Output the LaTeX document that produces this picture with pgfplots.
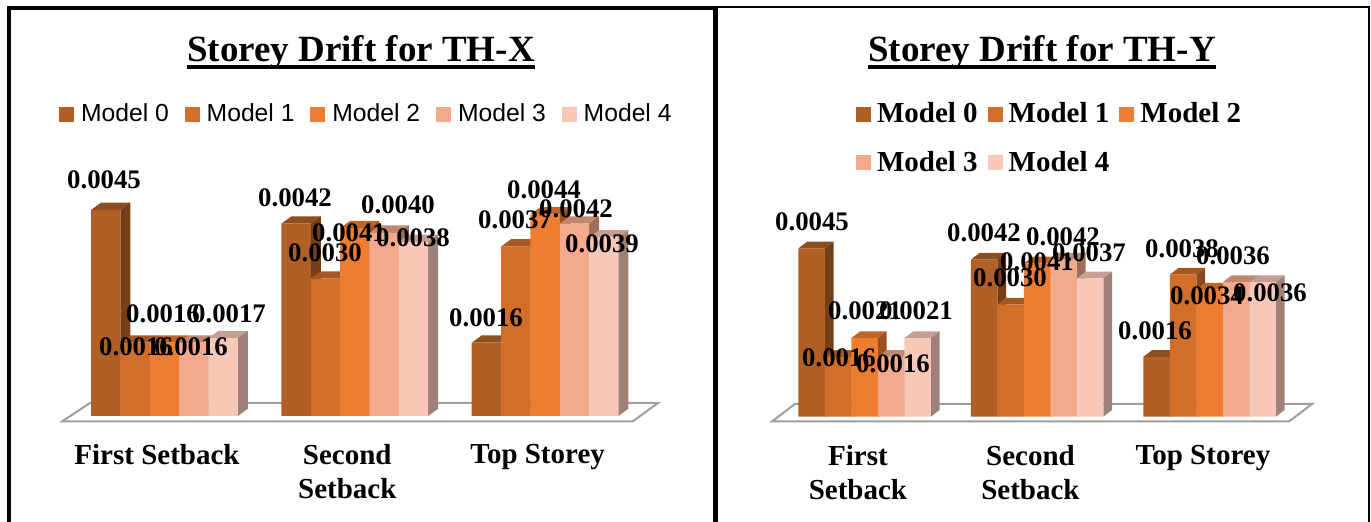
\documentclass[border=0pt]{standalone}
\usepackage{fontspec}
\usepackage{pgfplots}
\pgfplotsset{compat=1.18}
\setmainfont{Liberation Serif}
\newfontfamily\legendsans{Liberation Sans}

% shades of the five models: front, top and side faces
\definecolor{mA}{HTML}{B06024}\definecolor{mAt}{HTML}{8E4E1D}\definecolor{mAs}{HTML}{743F17}
\definecolor{mB}{HTML}{D06E2A}\definecolor{mBt}{HTML}{A65822}\definecolor{mBs}{HTML}{884A1C}
\definecolor{mC}{HTML}{ED7D31}\definecolor{mCt}{HTML}{BE6427}\definecolor{mCs}{HTML}{9A5120}
\definecolor{mD}{HTML}{F3A98C}\definecolor{mDt}{HTML}{C2876F}\definecolor{mDs}{HTML}{9E6E5B}
\definecolor{mE}{HTML}{F7C7B8}\definecolor{mEt}{HTML}{C69F93}\definecolor{mEs}{HTML}{A08178}

% depth faces of one bar: group, offset from the group centre, value, colour stem
\newcommand\DepthFaces[4]{%
  \edef\xa{\fpeval{#1+(#2)*\slot-\slot/2}}%
  \edef\xb{\fpeval{#1+(#2)*\slot+\slot/2}}%
  \edef\xc{\fpeval{\xb+\depthx}}%
  \edef\xd{\fpeval{\xa+\depthx}}%
  \edef\yt{\fpeval{#3+\depthy}}%
  \addplot[forget plot,draw=none,fill=#4t] coordinates {(\xa,#3)(\xb,#3)(\xc,\yt)(\xd,\yt)} --cycle;
  \addplot[forget plot,draw=none,fill=#4s] coordinates {(\xb,0)(\xc,\depthy)(\xc,\yt)(\xb,#3)} --cycle;
}
% one model: offset, colour stem, legend text, three values
\newcommand\ModelSeries[6]{%
  \DepthFaces{0}{#1}{#4}{#2}\DepthFaces{1}{#1}{#5}{#2}\DepthFaces{2}{#1}{#6}{#2}%
  \addplot[ybar,bar width=\barw,bar shift=#1*\barw,draw=none,fill=#2,
    legend image code/.code={\fill[#2] (0pt,-3.6pt) rectangle (7.5pt,3.9pt);}]
    coordinates {(0,#4)(1,#5)(2,#6)};
  \addlegendentry{#3}
}
\newcommand\under[1]{\setbox0\hbox{#1}\rlap{\rule[-3.5pt]{\wd0}{2pt}}\box0}

\pgfplotsset{storey/.style={
  scale only axis,clip=false,xmin=-0.5,xmax=2.5,ymin=0,ymax=0.005,
  axis x line=bottom,axis y line=none,axis line style={draw=none},
  xtick={0,1,2},major tick length=0pt,
  xticklabel style={align=center,font=\fontsize{14.5}{17}\selectfont\bfseries},
  legend cell align=left,
}}

\begin{document}
\begin{tikzpicture}[x=1pt,y=1pt]
\path[use as bounding box] (0,0) rectangle (685.5,261);

\begin{scope}[x=0.5pt,y=-0.5pt,yshift=261pt]
  % floors under the bars
  \draw[line width=1pt,draw=black!38,fill=white] (62,421.5)--(90,403)--(658,403)--(632.5,421.5)--cycle;
  \draw[line width=1pt,draw=black!38,fill=white] (772,421.5)--(795,404)--(1312,404)--(1289,421.5)--cycle;
  % panel frames
  \fill (7,6) rectangle (11,522);
  \fill (7,6) rectangle (713,10);
  \fill (713,6) rectangle (1370,8.3);
  \fill (713,6) rectangle (718,522);
  \fill (1368,6) rectangle (1370,522);
\end{scope}

% storey drift, time history along X
\begin{axis}[storey,at={(34.675pt,53pt)},anchor=south west,width=285.45pt,height=114.5pt,
  xticklabels={First Setback,{Second\\Setback},Top Storey},
  xticklabel style={xshift=-3.75pt,yshift=-10.5pt},
  legend columns=5,
  legend style={draw=none,fill=none,inner sep=0pt,outer sep=0pt,at={(-0.0181,1.3166)},anchor=west,
    font=\fontsize{12.35}{14}\selectfont\legendsans,
    /tikz/every odd column/.style={column sep=1.5pt},
    /tikz/every even column/.style={column sep=5.9pt}}]
  \def\slot{0.15423}\def\depthx{0.0525}\def\depthy{0.00016}\def\barw{14.675pt}
  \ModelSeries{-2}{mA}{Model 0}{0.0045}{0.0042}{0.0016}
  \ModelSeries{-1}{mB}{Model 1}{0.0016}{0.0030}{0.0037}
  \ModelSeries{0}{mC}{Model 2}{0.0016}{0.0041}{0.0044}
  \ModelSeries{1}{mD}{Model 3}{0.0016}{0.0040}{0.0042}
  \ModelSeries{2}{mE}{Model 4}{0.0017}{0.0038}{0.0039}
\end{axis}

% storey drift, time history along Y
\begin{axis}[storey,at={(389.2pt,52.65pt)},anchor=south west,width=258.75pt,height=93.5pt,
  xticklabels={{First\\Setback},{Second\\Setback},Top Storey},
  xticklabel style={xshift=-3.35pt,yshift=-11pt},
  legend columns=3,
  legend style={draw=none,fill=none,inner sep=0pt,outer sep=0pt,at={(0.15,1.488)},anchor=west,
    font=\fontsize{14.5}{17}\selectfont\bfseries,
    /tikz/every odd column/.style={column sep=1pt},
    /tikz/every even column/.style={column sep=3pt},
    /tikz/row sep=8.5pt}]
  \def\slot{0.15362}\def\depthx{0.0504}\def\depthy{0.00018}\def\barw{13.25pt}
  \ModelSeries{-2}{mA}{Model 0}{0.0045}{0.0042}{0.0016}
  \ModelSeries{-1}{mB}{Model 1}{0.0016}{0.0030}{0.0038}
  \ModelSeries{0}{mC}{Model 2}{0.0021}{0.0041}{0.0034}
  \ModelSeries{1}{mD}{Model 3}{0.0016}{0.0042}{0.0036}
  \ModelSeries{2}{mE}{Model 4}{0.0021}{0.0037}{0.0036}
\end{axis}

\begin{scope}[x=0.5pt,y=-0.5pt,yshift=261pt]
  \node[anchor=base,inner sep=0pt,font=\fontsize{18.5}{20}\selectfont\bfseries] at (361,62) {\under{Storey Drift for TH-X}};
  \node[anchor=base,inner sep=0pt,font=\fontsize{18.5}{20}\selectfont\bfseries] at (1042,62) {\under{Storey Drift for TH-Y}};
  % value labels
  \foreach \x/\y/\t in {
    104/180/0.0045,136/347/0.0016,163/314/0.0016,191/347/0.0016,229/314/0.0017,
    295/198/0.0042,325/253/0.0030,349/233/0.0041,398/205/0.0040,413/238/0.0038,
    486/318/0.0016,515/220/0.0037,544/190/0.0044,576/209/0.0042,602/244/0.0039,
    812/222/0.0045,839/358/0.0016,865/311/0.0021,893/364/0.0016,916/311/0.0021,
    984/233/0.0042,1010/278/0.0030,1037/262/0.0041,1063/237/0.0042,1089/253/0.0037,
    1155/331/0.0016,1182/249/0.0038,1207/296/0.0034,1233/256/0.0036,1270/293/0.0036}
    \node[anchor=base,inner sep=0pt,font=\fontsize{13.4}{15}\selectfont\bfseries] at (\x,\y+9) {\t};
\end{scope}
\end{tikzpicture}
\end{document}
